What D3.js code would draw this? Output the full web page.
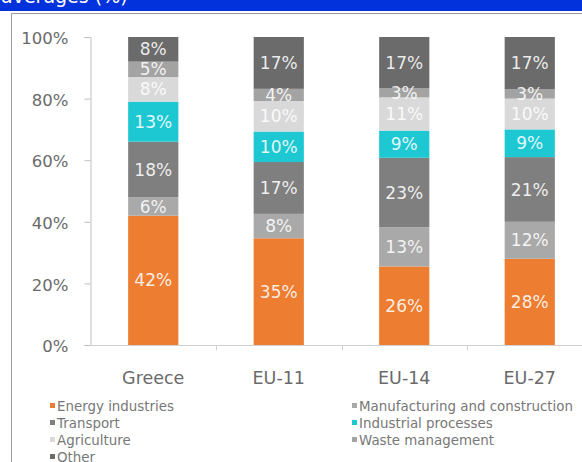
<!DOCTYPE html>
<html><head><meta charset="utf-8">
<script src="https://cdn.jsdelivr.net/npm/d3@7"></script>
<style>
html,body{margin:0;padding:0;background:#fff;}
svg{display:block;}
</style></head>
<body>
<svg id="chart" width="582" height="462"></svg>
<script>
const categories = ["Greece", "EU-11", "EU-14", "EU-27"];
const seriesNames = ["Energy industries", "Manufacturing and construction", "Transport",
  "Industrial processes", "Agriculture", "Waste management", "Other"];
const energy        = [42, 35, 26, 28];
const manufacturing = [6, 8, 13, 12];
const transport     = [18, 17, 23, 21];
const industrial    = [13, 10, 9, 9];
const agriculture   = [8, 10, 11, 10];
const waste         = [5, 4, 3, 3];
const other         = [8, 17, 17, 17];
const yTicks = [0, 0.2, 0.4, 0.6, 0.8, 1];
const colors = ["#ed7d31", "#a9a9a9", "#7f7f7f", "#1ec8d2", "#d9d9d9", "#a3a3a3", "#6b6b6b"];

const seriesValues = [energy, manufacturing, transport, industrial, agriculture, waste, other];
const rows = categories.map((c, i) => {
  const r = {cat: c};
  seriesNames.forEach((s, j) => r[s] = seriesValues[j][i]);
  return r;
});
const stack = d3.stack().keys(seriesNames).offset(d3.stackOffsetExpand);
const stacked = stack(rows);

const svg = d3.select("#chart");
const font = "'DejaVu Sans', sans-serif";

// banner
svg.append("rect").attr("x", 0).attr("y", 0).attr("width", 582).attr("height", 11).attr("fill", "#0232dc");
svg.append("text").attr("x", 1).attr("y", 3).attr("fill", "#fff")
  .attr("font-family", font).attr("font-size", 19).text("averages (%)");
// frame
svg.append("line").attr("x1", 11.5).attr("x2", 582).attr("y1", 13.5).attr("y2", 13.5).attr("stroke", "#9a9a9a");
svg.append("line").attr("x1", 11.5).attr("x2", 11.5).attr("y1", 13.5).attr("y2", 462).attr("stroke", "#9a9a9a");

const x = d3.scaleBand().domain(categories).range([90.5, 592.5]).paddingInner(0.6).paddingOuter(0.3);
const y = d3.scaleLinear().domain([0, 1]).range([345, 37]);

// y axis
const yAxis = svg.append("g").attr("transform", "translate(90.5,0)")
  .call(d3.axisLeft(y).tickValues(yTicks).tickFormat(d3.format(".0%")).tickSize(6).tickPadding(16));
yAxis.select(".domain").attr("stroke", "#bfbfbf");
yAxis.selectAll(".tick line").attr("stroke", "#bfbfbf");
yAxis.selectAll(".tick text").attr("fill", "#6a6a6a").attr("font-family", font).attr("font-size", 16.5).attr("dy", "0.4em");

// x axis baseline with boundary ticks
const xAxis = svg.append("g").attr("transform", "translate(0,345.5)");
xAxis.append("line").attr("x1", 90.5).attr("x2", 582).attr("stroke", "#d0d0d0");
const step = x.step();
categories.forEach((c, i) => {
  if (i > 0) {
    const bx = Math.round(x(c) - step * x.paddingInner() / 2) + 0.5;
    xAxis.append("line").attr("x1", bx).attr("x2", bx).attr("y1", 0).attr("y2", 5).attr("stroke", "#d0d0d0");
  }
});
xAxis.selectAll("text.cat").data(categories).join("text").attr("class", "cat")
  .attr("x", d => x(d) + x.bandwidth() / 2).attr("y", 38)
  .attr("text-anchor", "middle").attr("fill", "#6a6a6a")
  .attr("font-family", font).attr("font-size", 17.5).text(d => d);

// bars
const layers = svg.append("g").selectAll("g").data(stacked).join("g")
  .attr("fill", (d, i) => colors[i]);
layers.selectAll("rect").data(d => d).join("rect")
  .attr("x", d => x(d.data.cat))
  .attr("width", x.bandwidth())
  .attr("y", d => y(d[1]))
  .attr("height", d => y(d[0]) - y(d[1]));

// labels
const lbl = svg.append("g");
stacked.forEach((layer, i) => {
  layer.forEach(d => {
    lbl.append("text")
      .attr("x", x(d.data.cat) + x.bandwidth() / 2)
      .attr("y", (y(d[0]) + y(d[1])) / 2)
      .attr("dy", "0.36em").attr("text-anchor", "middle")
      .attr("fill", "#fff").attr("fill-opacity", 0.88)
      .attr("font-family", font).attr("font-size", 17)
      .text(d.data[layer.key] + "%");
  });
});

// legend
const legendPos = [[50, 406], [352, 406], [50, 423], [352, 423], [50, 440], [352, 440], [50, 457]];
const leg = svg.append("g");
seriesNames.forEach((s, i) => {
  const [lx, ly] = legendPos[i];
  leg.append("rect").attr("x", lx).attr("y", ly - 3).attr("width", 5).attr("height", 5).attr("fill", colors[i]);
  leg.append("text").attr("x", lx + 7).attr("y", ly).attr("dy", "0.35em")
    .attr("fill", "#777").attr("font-family", font).attr("font-size", 13.4).text(s);
});
</script>
</body></html>
